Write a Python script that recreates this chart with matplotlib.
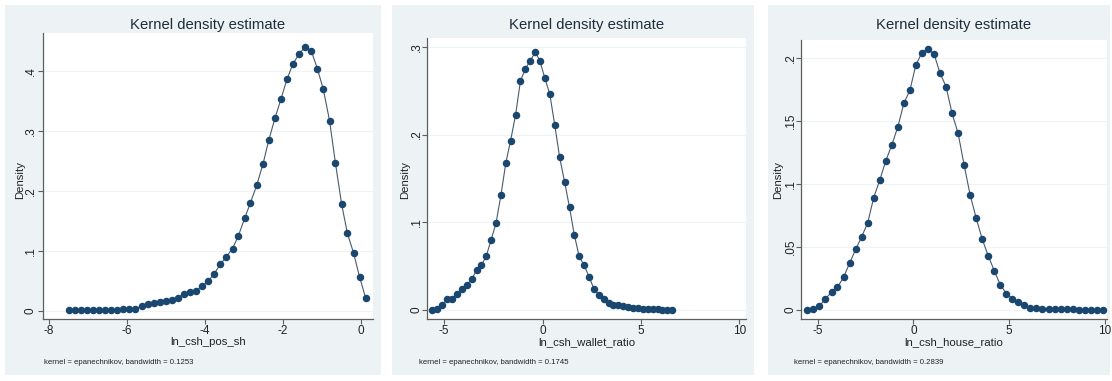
import matplotlib
matplotlib.use("Agg")
import matplotlib.pyplot as plt
from matplotlib.patches import Rectangle
from matplotlib import font_manager

W, H = 1112, 381

# panel 1: ln_csh_pos_sh
x1 = [-7.49, -7.33, -7.18, -7.02, -6.87, -6.71, -6.56, -6.40, -6.25, -6.09,
      -5.94, -5.78, -5.62, -5.47, -5.31, -5.16, -5.00, -4.85, -4.69, -4.54,
      -4.38, -4.22, -4.07, -3.91, -3.76, -3.60, -3.45, -3.29, -3.14, -2.98,
      -2.83, -2.67, -2.51, -2.36, -2.20, -2.05, -1.89, -1.74, -1.58, -1.43,
      -1.27, -1.11, -0.96, -0.80, -0.65, -0.49, -0.34, -0.18, -0.03, 0.13]
d1 = [0.001, 0.001, 0.001, 0.001, 0.002, 0.002, 0.002, 0.002, 0.002, 0.003,
      0.003, 0.004, 0.008, 0.011, 0.013, 0.015, 0.017, 0.019, 0.022, 0.028,
      0.031, 0.034, 0.042, 0.050, 0.062, 0.078, 0.090, 0.104, 0.125, 0.154,
      0.180, 0.209, 0.244, 0.284, 0.321, 0.352, 0.386, 0.411, 0.428, 0.439,
      0.433, 0.403, 0.369, 0.317, 0.247, 0.178, 0.129, 0.096, 0.057, 0.021]

# panel 2: ln_csh_wallet_ratio
x2 = [-5.59, -5.34, -5.09, -4.84, -4.60, -4.35, -4.10, -3.85, -3.60, -3.35,
      -3.11, -2.86, -2.61, -2.36, -2.11, -1.86, -1.62, -1.37, -1.12, -0.87,
      -0.62, -0.37, -0.13, 0.12, 0.37, 0.62, 0.87, 1.12, 1.37, 1.61,
      1.86, 2.11, 2.36, 2.61, 2.86, 3.10, 3.35, 3.60, 3.85, 4.10,
      4.35, 4.59, 4.84, 5.09, 5.34, 5.59, 5.84, 6.08, 6.33, 6.58]
d2 = [0.000, 0.001, 0.006, 0.012, 0.013, 0.018, 0.024, 0.028, 0.035, 0.045,
      0.051, 0.061, 0.080, 0.099, 0.131, 0.168, 0.193, 0.222, 0.261, 0.275,
      0.284, 0.294, 0.284, 0.264, 0.246, 0.211, 0.174, 0.146, 0.117, 0.086,
      0.061, 0.051, 0.038, 0.024, 0.017, 0.012, 0.008, 0.006, 0.006, 0.004,
      0.003, 0.002, 0.002, 0.001, 0.001, 0.001, 0.001, 0.000, 0.000, 0.000]

# panel 3: ln_csh_house_ratio
x3 = [-5.54, -5.23, -4.91, -4.60, -4.28, -3.97, -3.65, -3.34, -3.02, -2.71,
      -2.39, -2.08, -1.76, -1.45, -1.13, -0.82, -0.50, -0.19, 0.12, 0.44,
      0.75, 1.07, 1.38, 1.70, 2.01, 2.33, 2.64, 2.96, 3.27, 3.59,
      3.90, 4.22, 4.53, 4.85, 5.16, 5.47, 5.79, 6.10, 6.42, 6.73,
      7.05, 7.36, 7.68, 7.99, 8.31, 8.62, 8.94, 9.25, 9.57, 9.88]
d3 = [0.000, 0.001, 0.003, 0.009, 0.014, 0.018, 0.026, 0.037, 0.048, 0.058,
      0.069, 0.089, 0.103, 0.118, 0.131, 0.145, 0.164, 0.174, 0.194, 0.204,
      0.207, 0.203, 0.188, 0.177, 0.156, 0.140, 0.115, 0.091, 0.073, 0.056,
      0.043, 0.031, 0.020, 0.013, 0.009, 0.006, 0.004, 0.002, 0.002, 0.001,
      0.001, 0.001, 0.001, 0.001, 0.001, 0.000, 0.000, 0.000, 0.000, 0.000]

var_names = ["ln_csh_pos_sh", "ln_csh_wallet_ratio", "ln_csh_house_ratio"]
bandwidths = ["0.1253", "0.1745", "0.2839"]

xticks1 = [-8, -6, -4, -2, 0]
yticks1 = [0, 0.1, 0.2, 0.3, 0.4]
ylabels1 = ["0", ".1", ".2", ".3", ".4"]
xticks2 = [-5, 0, 5, 10]
yticks2 = [0, 0.1, 0.2, 0.3]
ylabels2 = ["0", ".1", ".2", ".3"]
xticks3 = [-5, 0, 5, 10]
yticks3 = [0, 0.05, 0.1, 0.15, 0.2]
ylabels3 = ["0", ".05", ".1", ".15", ".2"]

# layout in pixels: background span, plot box (l, r, t, b), axis limits
layout = [
    dict(bg=(5, 381), box=(43, 373, 33, 319), xlim=(-8.154, 0.316), ylim=(-0.0133, 0.4626),
         ytl_x=31, ylab_x=20, foot_x=44),
    dict(bg=(392, 754), box=(427, 746, 38, 319), xlim=(-5.864, 10.33), ylim=(-0.0103, 0.310),
         ytl_x=417, ylab_x=405, foot_x=419),
    dict(bg=(768, 1110), box=(801, 1107, 40, 319), xlim=(-5.872, 10.1), ylim=(-0.0071, 0.214),
         ytl_x=791, ylab_x=778, foot_x=794),
]

avail = {f.name for f in font_manager.fontManager.ttflist}
narrow = "Liberation Sans Narrow" if "Liberation Sans Narrow" in avail else "Liberation Sans"
regular = "Liberation Sans"
shrink = 1.0 if narrow == "Liberation Sans Narrow" else 0.86

BG = "#EDF3F5"
NAVY = "#1A476F"
LINE = "#4A5A6A"
AXC = "#5E5E5E"
TXT = "#222222"
TITLE = "#1E2D3C"

fig = plt.figure(figsize=(W / 100, H / 100), dpi=100)
fig.patch.set_facecolor("white")


def fx(px):
    return px / W


def fy(py):
    return 1 - py / H


series = [(x1, d1, xticks1, yticks1, ylabels1),
          (x2, d2, xticks2, yticks2, ylabels2),
          (x3, d3, xticks3, yticks3, ylabels3)]

for i, ((xs, ds, xt, yt, yl), lay) in enumerate(zip(series, layout)):
    b0, b1 = lay["bg"]
    fig.patches.append(Rectangle((fx(b0), fy(375)), fx(b1) - fx(b0), fy(5) - fy(375),
                                 transform=fig.transFigure, facecolor=BG, edgecolor="none", zorder=-10))
    l, r, t, b = lay["box"]
    ax = fig.add_axes([fx(l), fy(b), fx(r) - fx(l), fy(t) - fy(b)])
    ax.set_zorder(5)
    ax.set_facecolor("white")
    for yv in yt:
        ax.axhline(yv, color="#EEF4F6", lw=0.8, zorder=0)
    ax.plot(xs, ds, color=LINE, lw=0.8, zorder=2)
    ax.plot(xs, ds, "o", color=NAVY, ms=4.4, mec=NAVY, zorder=3)
    ax.set_xlim(*lay["xlim"])
    ax.set_ylim(*lay["ylim"])
    ax.set_xticks(xt)
    ax.set_xticklabels([str(v) for v in xt], fontfamily=narrow, fontsize=9.8 * shrink, color=TXT)
    ax.set_yticks(yt)
    ax.set_yticklabels([])
    ax.tick_params(axis="both", direction="out", length=3.5, width=0.8, color=AXC, pad=1)
    for s in ["top", "right"]:
        ax.spines[s].set_visible(False)
    for s in ["left", "bottom"]:
        ax.spines[s].set_color(AXC)
        ax.spines[s].set_linewidth(0.9)

    # rotated y tick labels
    for yv, lab in zip(yt, yl):
        ypx = ax.transData.transform((0, yv))[1]
        fig.text(fx(lay["ytl_x"]), ypx / H, lab, rotation=90, ha="center", va="center",
                 fontfamily=regular, fontsize=8.5, color=TXT)

    cx = (l + r) / 2
    fig.text(fx(cx), fy(25), "Kernel density estimate", ha="center", va="center",
             fontfamily=narrow, fontsize=12.5 * shrink, color=TITLE)
    fig.text(fx(lay["ylab_x"]), fy(180), "Density", rotation=90, ha="center", va="center",
             fontfamily=regular, fontsize=8.2, color=TXT)
    fig.text(fx(cx), fy(342), var_names[i], ha="center", va="center",
             fontfamily=narrow, fontsize=9.5 * shrink, color=TXT)
    fig.text(fx(lay["foot_x"]), fy(362), "kernel = epanechnikov, bandwidth = " + bandwidths[i],
             ha="left", va="center", fontfamily=narrow, fontsize=6.5 * shrink, color=TXT)

fig.savefig("out.png", dpi=100)
